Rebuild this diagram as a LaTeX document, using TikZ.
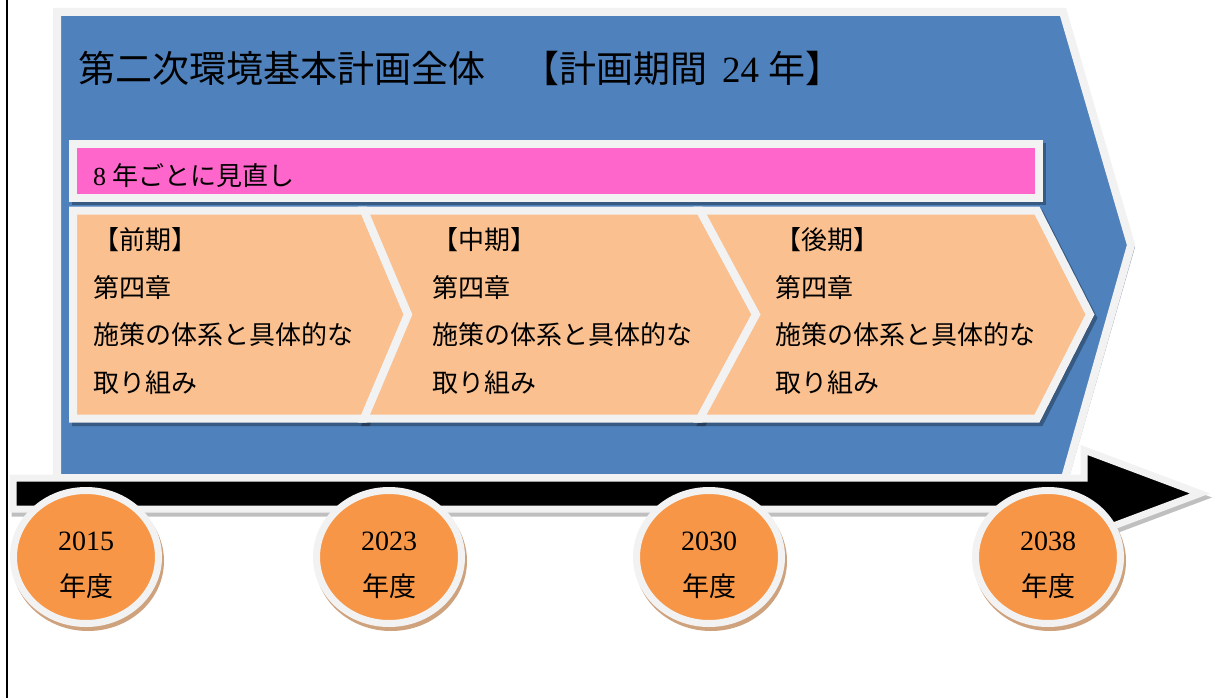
\documentclass[tikz,border=0pt]{standalone}
\usepackage{fontspec}
\setmainfont{Liberation Serif}
\newfontfamily\jp{Noto Sans CJK JP}
\definecolor{bluefill}{HTML}{4F81BD}
\definecolor{rim}{HTML}{F2F2F2}
\definecolor{peach}{HTML}{FAC090}
\definecolor{pinkfill}{HTML}{FF66CC}
\definecolor{orangefill}{HTML}{F79646}
\definecolor{circshadow}{HTML}{CFA27E}
\definecolor{arrowshadow}{HTML}{BFBFBF}
\definecolor{pentshadow}{HTML}{8C9DB8}
\begin{document}
\begin{tikzpicture}[x=1pt,y=-1pt,
  rimmed/.style={draw=rim,line width=#1,line join=miter,miter limit=20},
  rimmed/.default=8,
  shadowed/.style={fill=black,draw=black,opacity=0.3,line width=8,line join=miter,miter limit=20},
  chevtext/.style={anchor=west,inner sep=0pt,font=\jp\fontsize{26}{30}\selectfont},
  yeartext/.style={anchor=center,inner sep=0pt,font=\fontsize{28}{30}\selectfont},
  yearjp/.style={anchor=center,inner sep=0pt,font=\jp\fontsize{27}{30}\selectfont}]
\useasboundingbox (0,0) rectangle (1213,698);
\fill[white] (0,0) rectangle (1213,698);
% left rule
\draw[black,line width=1.6] (6.8,0) -- (6.8,698);
% big pentagon
\fill[pentshadow] (59,14) -- (1066,14) -- (1135,247) -- (1068,481) -- (59,481) -- cycle;
\path[rimmed,fill=bluefill] (57,12) -- (1063,12) -- (1131,245) -- (1065,478) -- (57,478) -- cycle;
\node[anchor=west,inner sep=0pt,font=\jp\fontsize{37}{40}\selectfont] (title) at (78,68) {第二次環境基本計画全体　【計画期間\hspace{15pt}\textrm{24}\hspace{9pt}年】};
% pink bar
\path[shadowed] (76,147) rectangle (1042,201);
\path[rimmed,fill=pinkfill] (73,144) rectangle (1039,198);
\node[chevtext] (review) at (93,176) {\textrm{8} 年ごとに見直し};
% chevrons shadows
\path[shadowed] (76,214) -- (367,214) -- (411,318) -- (367,422) -- (76,422) -- cycle;
\path[shadowed] (367,214) -- (703,214) -- (759,318) -- (703,422) -- (367,422) -- (411,318) -- cycle;
\path[shadowed] (703,214) -- (1040,214) -- (1093,318) -- (1040,422) -- (703,422) -- (759,318) -- cycle;
% chevrons
\path[rimmed,fill=peach] (73,210.5) -- (364,210.5) -- (408,314.5) -- (364,418.5) -- (73,418.5) -- cycle;
\path[rimmed,fill=peach] (364,210.5) -- (700,210.5) -- (756,314.5) -- (700,418.5) -- (364,418.5) -- (408,314.5) -- cycle;
\path[rimmed,fill=peach] (700,210.5) -- (1037,210.5) -- (1090,314.5) -- (1037,418.5) -- (700,418.5) -- (756,314.5) -- cycle;
\foreach \x/\p/\n in {93/前期/a,432/中期/b,775/後期/c}{
  \node[chevtext] (h\n) at (\x,240) {【\p】};
  \node[chevtext] (l1\n) at (\x,288) {第四章};
  \node[chevtext] (l2\n) at (\x,335) {施策の体系と具体的な};
  \node[chevtext] (l3\n) at (\x,383) {取り組み};
}
% timeline arrow
\path[fill=arrowshadow,draw=arrowshadow,line width=7,line join=miter,miter limit=20] (15,482) -- (1086,482) -- (1086,454) -- (1202,497.5) -- (1086,541) -- (1086,513) -- (15,513) -- cycle;
\path[rimmed=7,fill=black] (13,478) -- (1084,478) -- (1084,450) -- (1200,493.5) -- (1084,537) -- (1084,509) -- (13,509) -- cycle;
% year circles
\foreach \cx/\yr/\n in {86/2015/a,389/2023/b,709/2030/c,1048/2038/d}{
  \fill[circshadow] (\cx+2,561) ellipse [x radius=76,y radius=70];
  \path[rimmed=7,fill=orangefill] (\cx,557) ellipse [x radius=72.5,y radius=66.5];
  \node[yeartext] (y\n) at (\cx,541) {\yr};
  \node[yearjp] (d\n) at (\cx,586) {年度};
}
\end{tikzpicture}
\end{document}
